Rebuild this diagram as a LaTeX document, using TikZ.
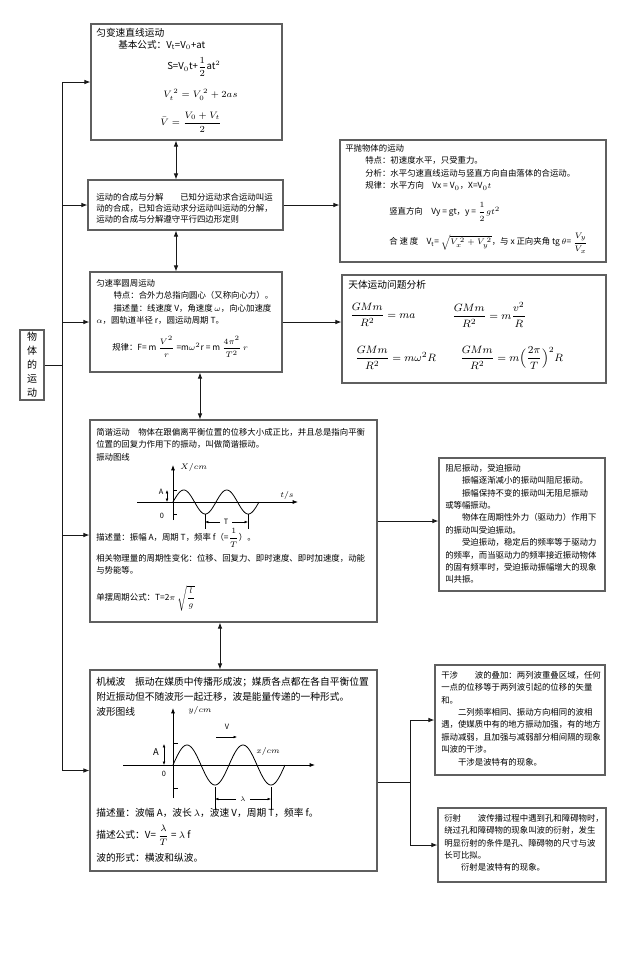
\documentclass[tikz,border=0pt]{standalone}
\usepackage{fontspec}
\usepackage{amsmath}
\setmainfont{Noto Sans CJK SC}
\usetikzlibrary{arrows.meta,positioning,calc,fit}
\definecolor{boxgray}{RGB}{95,95,95}
\definecolor{linegray}{RGB}{25,25,25}

\begin{document}
\begin{tikzpicture}[
 x=0.75pt, y=-0.75pt,
 box/.style={draw=boxgray, line width=0.9pt, inner sep=0pt},
 txt/.style={anchor=north west, inner sep=0pt, align=left, font=\fontsize{6.3}{9.3}\selectfont},
 txtw/.style={anchor=west, inner sep=0pt, font=\fontsize{6.3}{9.3}\selectfont},
 big/.style={anchor=north west, inner sep=0pt, align=left, font=\fontsize{7.3}{11.2}\selectfont},
 bigw/.style={anchor=west, inner sep=0pt, font=\fontsize{7.3}{11.2}\selectfont},
 fml/.style={anchor=west, inner sep=0pt, font=\fontsize{7.2}{8.6}\selectfont},
 gm/.style={anchor=west, inner sep=0pt, font=\fontsize{8}{9.6}\selectfont},
 arrow/.style={-{Latex[length=4.5pt,width=3.5pt]}, line width=0.7pt, color=linegray},
 dbl/.style={{Latex[length=4.5pt,width=3.5pt]}-{Latex[length=4.5pt,width=3.5pt]}, line width=0.7pt, color=linegray},
 link/.style={line width=0.7pt, color=linegray},
 axis/.style={-{Latex[length=4pt,width=3pt]}, line width=0.6pt},
 dim/.style={{Latex[length=2.5pt,width=2pt]}-{Latex[length=2.5pt,width=2pt]}, line width=0.4pt},
 dimr/.style={-{Latex[length=2.5pt,width=2pt]}, line width=0.4pt},
 wave/.style={line width=0.6pt},
 lab/.style={inner sep=0pt, font=\fontsize{5.5}{6.5}\selectfont},
 labi/.style={inner sep=0pt, font=\fontsize{6.5}{7.5}\selectfont}
]
\fill[white] (0,0) rectangle (640,965);
\useasboundingbox (0,0) rectangle (640,965);

% Boxes
\node[box, fit={(20,330) (44,400)}] (root) {};
\node[box, fit={(91,24) (282,140)}] (b1) {};
\node[box, fit={(88,180) (283,230)}] (b2) {};
\node[box, fit={(340,140) (606,262)}] (pp) {};
\node[box, fit={(90,272) (282,372)}] (b3) {};
\node[box, fit={(342,275) (606,383)}] (tt) {};
\node[box, fit={(90,420) (377,622)}] (b4) {};
\node[box, fit={(439,458) (605,591)}] (zn) {};
\node[box, fit={(90,670) (377,871)}] (b5) {};
\node[box, fit={(435,665) (605,775)}] (gs) {};
\node[box, fit={(438,808) (606,882)}] (ys) {};

% Root
\node[inner sep=0pt, align=center, font=\fontsize{7.5}{10.5}\selectfont] (rootlab) at (root.center) {物\\体\\的\\运\\动};

% Box 1
\node[bigw] (b1a) at (96,33) {匀变速直线运动};
\node[fml] (b1b) at (118,45) {基本公式：V$_\mathrm{t}$=V$_0$+at};
\node[fml] (b1c) at (167,67) {S=V$_0$t+$\dfrac{1}{2}$at$^2$};
\node[fml] (b1d) at (163,95) {$V_t^{\,2}=V_0^{\,2}+2as$};
\node[fml] (b1e) at (160,122) {$\bar{V}=\dfrac{V_0+V_t}{2}$};

% Box 2
\node[txt, font=\fontsize{6.3}{8.3}\selectfont] (b2t) at (96,193) {运动的合成与分解\quad\quad 已知分运动求合运动叫运\\动的合成，已知合运动求分运动叫运动的分解，\\运动的合成与分解遵守平行四边形定则};

% Projectile
\node[txt] (pp1) at (345,144) {平抛物体的运动\\\hspace*{15pt}特点：初速度水平，只受重力。\\\hspace*{15pt}分析：水平匀速直线运动与竖直方向自由落体的合运动。\\\hspace*{15pt}规律：水平方向\quad Vx = V$_0$，X=V$_0t$};
\node[txtw] (pp2) at (389,212) {竖直方向\quad Vy = gt，y = $\dfrac{1}{2}gt^2$};
\node[txtw] (pp3) at (389,243) {合 速 度\quad V$_\mathrm{t}$= $\sqrt{V_x^{\,2}+V_y^{\,2}}$，与 x 正向夹角 tg$\,\theta$= $\dfrac{V_y}{V_x}$};

% Box 3
\node[txt] (b3t) at (96,279) {匀速率圆周运动\\\hspace*{13pt}特点：合外力总指向圆心（又称向心力）。\\\hspace*{13pt}描述量：线速度 V，角速度$\,\omega$，向心加速度\\$\alpha$，圆轨道半径 r，圆运动周期 T。};
\node[txtw] (b3f) at (112,347) {规律：F= m $\dfrac{V^2}{r}$ =m$\omega^2$r = m $\dfrac{4\pi^2}{T^2}\,r$};

% Gravitation
\node[bigw] (tt1) at (348,285) {天体运动问题分析};
\node[gm] (tt2) at (350,315) {$\dfrac{GMm}{R^2}=ma$};
\node[gm] (tt3) at (452,315) {$\dfrac{GMm}{R^2}=m\dfrac{v^2}{R}$};
\node[gm] (tt4) at (355,358) {$\dfrac{GMm}{R^2}=m\omega^2R$};
\node[gm] (tt5) at (460,358) {$\dfrac{GMm}{R^2}=m\Big(\dfrac{2\pi}{T}\Big)^2R$};

% Box 4
\node[txt] (b4t) at (96,428) {简谐运动\quad 物体在跟偏离平衡位置的位移大小成正比，并且总是指向平衡\\位置的回复力作用下的振动，叫做简谐振动。\\振动图线};
\node[txtw] (b4d) at (96,538) {描述量：振幅 A，周期 T，频率 f（=$\dfrac{1}{T}$）。};
\node[txt] (b4r) at (96,554) {相关物理量的周期性变化：位移、回复力、即时速度、即时加速度，动能\\与势能等。};
\node[txtw] (b4p) at (96,598) {单摆周期公式：T=2$\pi$ $\sqrt{\dfrac{l}{g}}$};

% vibration graph
\draw[axis] (137,502) -- (298,502);
\draw[axis] (173,520) -- (173,465);
\draw[wave] plot[domain=0:86, samples=90, smooth] ({173+\x},{502-12*sin(\x/43*360)});
\draw[line width=0.4pt] (173,490) -- (177,490);
\draw[line width=0.4pt] (173,514) -- (177,514);
\draw[dim] (167,490) -- (167,502);
\node[lab] (ga) at (161,492) {A};
\node[lab] (g0) at (162,516) {0};
\node[labi, anchor=west] (gx) at (180,467) {$X/cm$};
\node[labi, anchor=west] (gt) at (280,495) {$t/s$};
\draw[line width=0.4pt] (205,514) -- (205,529);
\draw[line width=0.4pt] (248,514) -- (248,529);
\node[lab] (gT) at (226,522) {T};
\draw[dimr] (220,522) -- (205,522);
\draw[dimr] (232,522) -- (248,522);

% Damped / forced
\node[txt] (znt) at (445,464) {阻尼振动，受迫振动\\\hspace*{12.6pt}振幅逐渐减小的振动叫阻尼振动。\\\hspace*{12.6pt}振幅保持不变的振动叫无阻尼振动\\或等幅振动。\\\hspace*{12.6pt}物体在周期性外力（驱动力）作用下\\的振动叫受迫振动。\\\hspace*{12.6pt}受迫振动，稳定后的频率等于驱动力\\的频率，而当驱动力的频率接近振动物体\\的固有频率时，受迫振动振幅增大的现象\\叫共振。};

% Box 5
\node[big] (b5t) at (96,677) {机械波\quad 振动在媒质中传播形成波；媒质各点都在各自平衡位置\\附近振动但不随波形一起迁移，波是能量传递的一种形式。\\波形图线};
\node[bigw] (b5d) at (96,813) {描述量：波幅 A，波长$\,\lambda$，波速 V，周期 T，频率 f。};
\node[bigw] (b5f) at (96,835) {描述公式：V= $\dfrac{\lambda}{T}$ = $\lambda$ f};
\node[bigw] (b5k) at (96,858) {波的形式：横波和纵波。};

% wave graph
\draw[axis] (123,765) -- (315,765);
\draw[axis] (173,798) -- (173,708);
\draw[wave] plot[domain=0:112, samples=100, smooth] ({173+\x},{765-20*sin(\x/56*360)});
\draw[line width=0.4pt] (173,743) -- (178,743);
\draw[line width=0.4pt] (173,788) -- (178,788);
\draw[dim] (164,744) -- (164,765);
\node[lab, font=\fontsize{7}{8}\selectfont] (wa) at (156,752) {A};
\node[lab] (w0) at (164,774) {0};
\node[labi, anchor=west] (wy) at (188,710) {$y/cm$};
\node[labi, anchor=west] (wx) at (256,751) {$x/cm$};
\node[lab] (wv) at (227,727) {V};
\draw[dimr] (216,737) -- (237,737);
\draw[line width=0.4pt] (215,787) -- (215,810);
\draw[line width=0.4pt] (271,787) -- (271,810);
\node[lab] (wl) at (243,799) {$\lambda$};
\draw[dimr] (236,799) -- (215,799);
\draw[dimr] (250,799) -- (271,799);

% Interference
\node[txt] (gst) at (441,671) {干涉\quad\quad 波的叠加：两列波重叠区域，任何\\一点的位移等于两列波引起的位移的矢量\\和。\\\hspace*{12.6pt}二列频率相同、振动方向相同的波相\\遇，使媒质中有的地方振动加强，有的地方\\振动减弱，且加强与减弱部分相间隔的现象\\叫波的干涉。\\\hspace*{12.6pt}干涉是波特有的现象。};

% Diffraction
\node[txt] (yst) at (444,814) {衍射\quad\quad 波传播过程中遇到孔和障碍物时，\\绕过孔和障碍物的现象叫波的衍射，发生\\明显衍射的条件是孔、障碍物的尺寸与波\\长可比拟。\\\hspace*{12.6pt}衍射是波特有的现象。};

% Spine
\coordinate (sp) at (62,0);
\coordinate (b4in) at ($(b4.west)+(0,14)$);
\draw[link] (root.east) -- (root.east -| sp);
\draw[link] (sp |- b1.west) -- (sp |- b5.west);
\draw[arrow] (sp |- b1.west) -- (b1.west);
\draw[arrow] (sp |- b2.west) -- (b2.west);
\draw[arrow] (sp |- b3.west) -- (b3.west);
\draw[arrow] (sp |- b4in) -- (b4in);
\draw[arrow] (sp |- b5.west) -- (b5.west);

% Links between boxes
\coordinate (c12) at (176,0);
\coordinate (c34) at (200,0);
\coordinate (c45) at (220,0);
\draw[dbl] (b1.south -| c12) -- (b2.north -| c12);
\draw[dbl] (b2.south -| c12) -- (b3.north -| c12);
\draw[dbl] (b3.south -| c34) -- (b4.north -| c34);
\draw[dbl] (b4.south -| c45) -- (b5.north -| c45);

% Links to the right
\draw[arrow] (b2.east) -- (b2.east -| pp.west);
\draw[arrow] (b3.east) -- (b3.east -| tt.west);
\draw[arrow] (b4.east) -- (b4.east -| zn.west);
\coordinate (br) at (410,0);
\coordinate (b5out) at ($(b5.east)+(0,12)$);
\draw[link] (b5out) -- (b5out -| br);
\draw[link] (br |- gs.west) -- (br |- ys.west);
\draw[arrow] (br |- gs.west) -- (gs.west);
\draw[arrow] (br |- ys.west) -- (ys.west);

\end{tikzpicture}
\end{document}
